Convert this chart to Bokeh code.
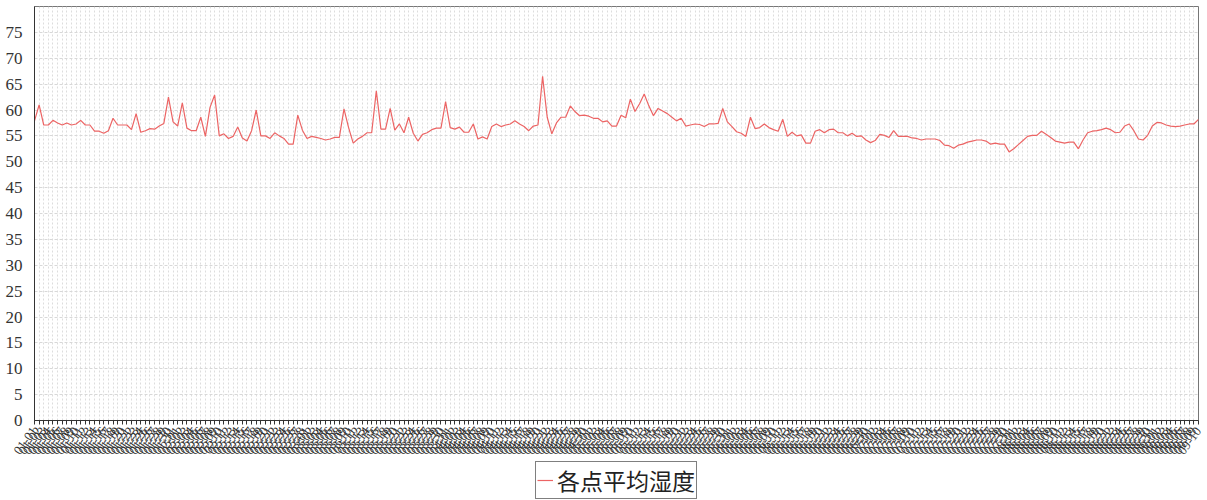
import pandas as pd
from bokeh.plotting import figure
from bokeh.layouts import column
from bokeh.models import Range1d, FixedTicker, Legend, LegendItem
from bokeh.embed import file_html
from bokeh.resources import INLINE

humidity = [
    57.9, 61.0, 57.1, 57.1, 58.0, 57.5, 57.1, 57.5, 57.1, 57.3,
    58.0, 57.1, 57.1, 55.9, 55.9, 55.5, 56.0, 58.4, 57.1, 57.1,
    57.1, 56.2, 59.3, 55.7, 56.0, 56.4, 56.3, 56.9, 57.4, 62.5,
    57.7, 56.9, 61.4, 56.5, 56.0, 56.0, 58.6, 54.9, 60.5, 62.9,
    55.0, 55.4, 54.5, 54.9, 56.7, 54.6, 54.0, 56.0, 60.0, 55.0,
    55.0, 54.5, 55.6, 55.0, 54.5, 53.4, 53.4, 59.0, 56.1, 54.5,
    54.9, 54.7, 54.5, 54.2, 54.4, 54.7, 54.7, 60.2, 56.6, 53.6,
    54.4, 54.9, 55.6, 55.6, 63.7, 56.3, 56.3, 60.3, 56.1, 57.3,
    55.6, 58.6, 55.5, 54.0, 55.3, 55.6, 56.2, 56.5, 56.5, 61.6,
    56.6, 56.3, 56.7, 55.7, 55.7, 57.3, 54.4, 54.8, 54.4, 56.8,
    57.3, 56.8, 57.1, 57.3, 57.9, 57.3, 56.8, 56.0, 56.9, 57.1,
    66.5, 58.6, 55.4, 57.5, 58.6, 58.6, 60.8, 59.7, 58.9, 59.0,
    58.8, 58.4, 58.4, 57.7, 57.9, 56.9, 56.9, 59.0, 58.5, 62.1,
    59.7, 61.2, 63.1, 60.8, 58.9, 60.3, 59.8, 59.3, 58.6, 57.9,
    58.4, 56.9, 57.1, 57.3, 57.2, 56.8, 57.3, 57.3, 57.4, 60.3,
    57.7, 56.8, 55.8, 55.5, 54.9, 58.6, 56.4, 56.6, 57.3, 56.6,
    56.2, 55.9, 58.2, 54.9, 55.7, 55.0, 55.2,
    53.6, 53.6, 55.9, 56.2, 55.6, 56.2, 56.3, 55.6, 55.6, 55.0,
    55.5, 54.9, 55.0, 54.2, 53.7, 54.1, 55.3, 55.1, 54.7, 56.0,
    54.9, 54.9, 54.9, 54.6, 54.5, 54.2, 54.4, 54.4, 54.4, 54.1,
    53.2, 53.1, 52.6, 53.2, 53.4, 53.8, 54.0, 54.2, 54.2, 54.0,
    53.4, 53.6, 53.4, 53.4, 51.9, 52.5, 53.3, 54.1, 54.9, 55.1,
    55.1, 55.9, 55.3, 54.7, 54.0, 53.8, 53.6, 53.8, 53.8, 52.5,
    54.2, 55.6, 55.9, 56.0, 56.2, 56.5, 56.2, 55.6, 55.7, 56.9,
    57.3, 56.0, 54.4, 54.2, 55.1, 56.9, 57.6, 57.5, 57.1, 56.9,
    56.8, 56.9, 57.1, 57.3, 57.3, 58.2,
]

dates = [d.strftime("%m-%d") for d in pd.date_range("2023-01-01", periods=len(humidity), freq="D")]
x_idx = list(range(len(humidity)))
y_ticks = list(range(0, 80, 5))
series_name = "各点平均湿度"
line_color = "#ec6464"

p = figure(frame_width=1164, frame_height=414, output_backend="svg", toolbar_location=None,
           x_range=Range1d(0, len(humidity) - 1), y_range=Range1d(0, 80),
           min_border_left=34, min_border_top=6, min_border_right=9, min_border_bottom=40)
p.background_fill_color = "white"
p.border_fill_color = "white"
p.outline_line_color = "#777777"
p.outline_line_width = 1

r = p.line(x_idx, humidity, line_color=line_color, line_width=1.2)

p.yaxis.ticker = FixedTicker(ticks=y_ticks)
p.yaxis.major_label_text_font = "Liberation Serif"
p.yaxis.major_label_text_font_size = "17px"
p.yaxis.major_label_text_color = "#333333"
p.yaxis.axis_line_color = "#333333"
p.yaxis.major_tick_line_color = None
p.yaxis.minor_tick_line_color = None
p.yaxis.major_label_standoff = 6

p.xaxis.ticker = FixedTicker(ticks=x_idx)
p.xaxis.major_label_overrides = {i: dates[i] for i in x_idx}
p.xaxis.major_label_orientation = 0.95
p.xaxis.major_label_text_font = "Liberation Serif"
p.xaxis.major_label_text_font_size = "13px"
p.xaxis.major_label_text_color = "#333333"
p.xaxis.axis_line_color = "#333333"
p.xaxis.major_tick_line_color = "#333333"
p.xaxis.major_tick_in = 0
p.xaxis.major_tick_out = 4
p.xaxis.minor_tick_line_color = None
p.xaxis.major_label_standoff = 4

p.xgrid.grid_line_color = "#dddddd"
p.xgrid.grid_line_dash = "2 2"
p.ygrid.grid_line_color = "#d8d8d8"
p.ygrid.grid_line_dash = "3 2"

# legend strip below the chart (its line lies outside this strip's ranges, so only the legend shows)
lg = figure(width=1207, height=40, output_backend="svg", toolbar_location=None,
            x_range=Range1d(-2, -1), y_range=Range1d(-2, -1),
            min_border=0, x_axis_location=None, y_axis_location=None)
lg.outline_line_color = None
lg.grid.visible = False
lr = lg.line(x_idx, humidity, line_color=line_color, line_width=1.2)
legend = Legend(items=[LegendItem(label=series_name, renderers=[lr])],
                location="center", orientation="horizontal",
                border_line_color="black", border_line_width=1,
                label_text_font="Noto Sans CJK SC", label_text_font_size="23px",
                label_text_color="#222222",
                glyph_width=16, glyph_height=20, padding=1, spacing=0,
                label_standoff=4, margin=0, background_fill_alpha=1)
lg.add_layout(legend, "center")

page = column(p, lg, spacing=0)
open("out.html", "w").write(file_html(page, INLINE))
